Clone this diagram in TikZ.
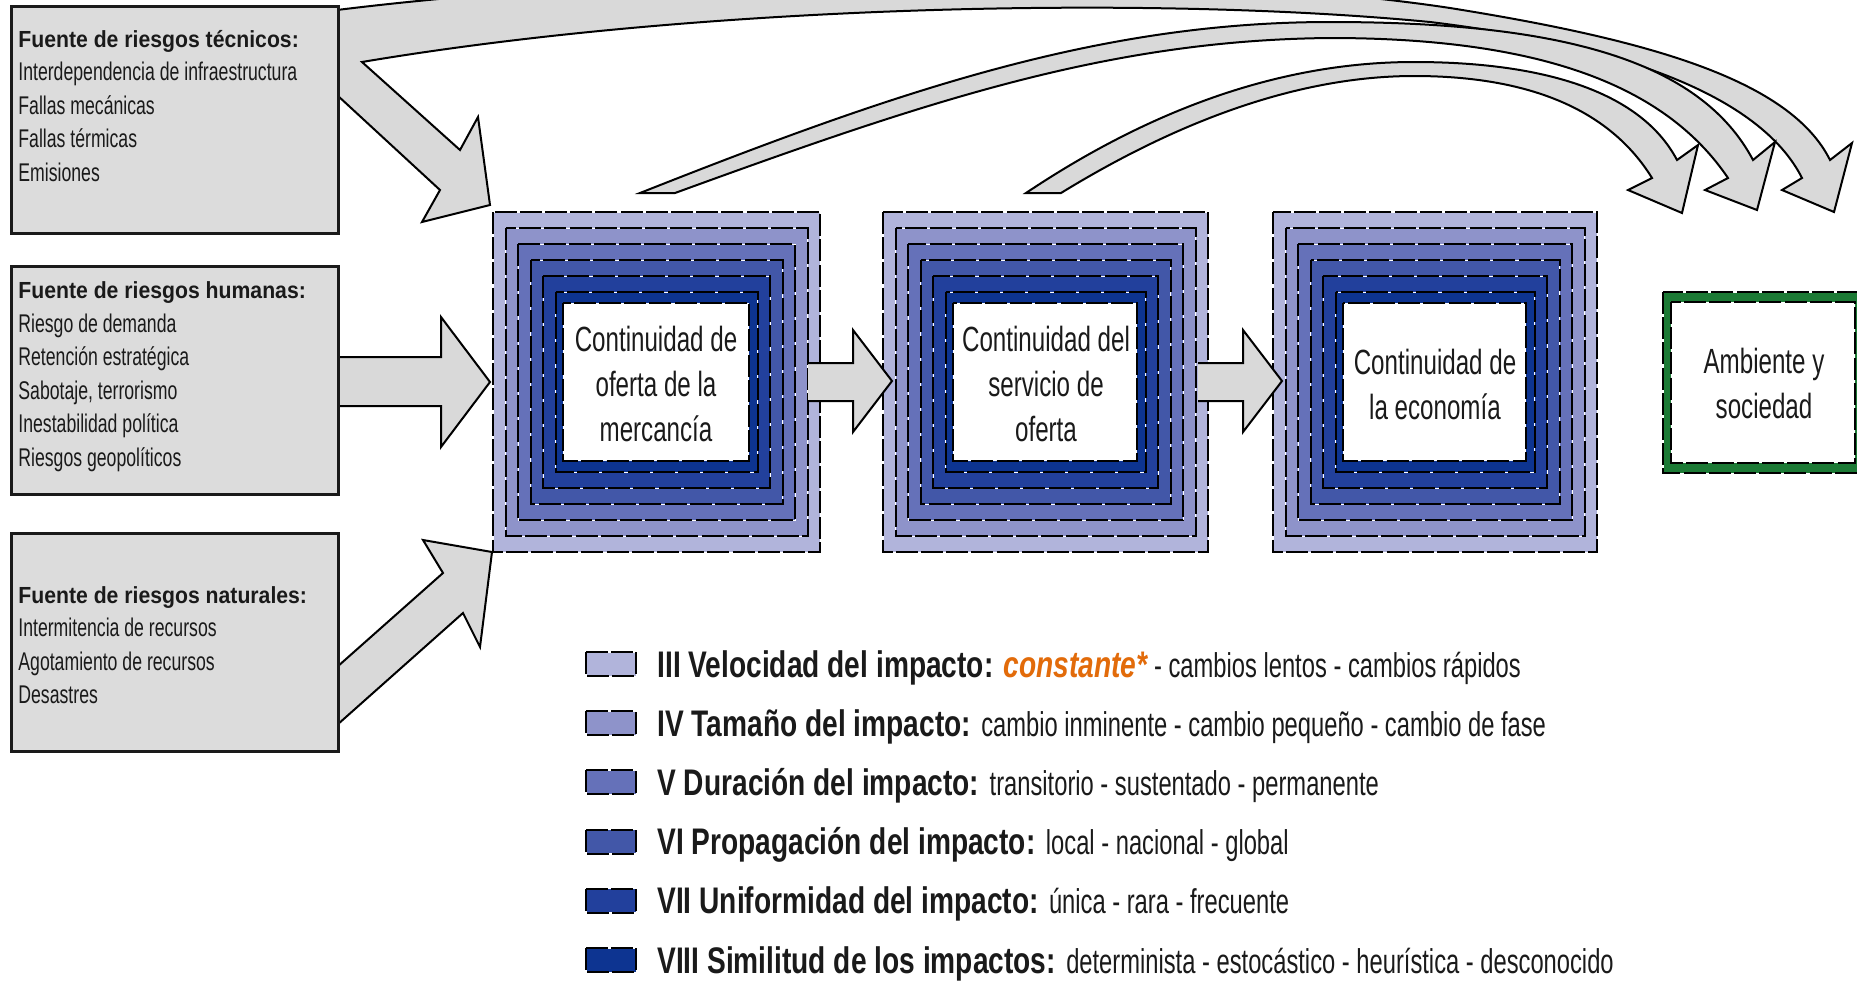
\documentclass[tikz,border=0pt]{standalone}
\usepackage{fontspec}
\setmainfont{Liberation Sans}
\newfontfamily\narrowf[FakeStretch=0.69]{Liberation Sans}
\newfontfamily\titlef[FakeStretch=0.91]{Liberation Sans}
\newfontfamily\legf[FakeStretch=0.76]{Liberation Sans}
\usetikzlibrary{calc}

\definecolor{lay1}{HTML}{B1B4DB}
\definecolor{lay2}{HTML}{8E93CA}
\definecolor{lay3}{HTML}{6571B9}
\definecolor{lay4}{HTML}{4257A8}
\definecolor{lay5}{HTML}{22409C}
\definecolor{lay6}{HTML}{0D3491}
\definecolor{arrowgray}{HTML}{D9D9D9}
\definecolor{boxgray}{HTML}{DCDCDC}
\definecolor{envgreen}{HTML}{1C7A35}
\definecolor{orangeT}{HTML}{E26B0A}
\definecolor{ink}{HTML}{1A1A1A}

\newcommand{\legB}{\legf\bfseries\fontsize{18.5}{20}\selectfont}
\newcommand{\legR}{\narrowf\fontsize{17.2}{20}\selectfont}

\tikzset{
  blockarrow/.style={fill=arrowgray, draw=black, line width=1pt, line join=miter},
  srcbox/.style={fill=boxgray, draw=ink, line width=1.5pt},
  dashedge/.style={draw=black, line width=1pt, dash pattern=on 11pt off 1.6pt},
  whiteedge/.style={draw=white, line width=0.45pt},
  ttl/.style={anchor=base west, inner sep=0pt, text=ink, font=\titlef\bfseries\fontsize{11.65}{14}\selectfont},
  itm/.style={anchor=base west, inner sep=0pt, text=ink, font=\narrowf\fontsize{12.8}{15}\selectfont},
  ctr/.style={align=center, inner sep=0pt, text=ink, font=\narrowf\fontsize{17.5}{22.5}\selectfont},
  leg/.style={anchor=base west, inner sep=0pt, text=ink},
}

\newcommand{\impactbox}[4]{%
  \foreach \k/\c in {0/lay1,1/lay2,2/lay3,3/lay4,4/lay5,5/lay6}{
    \fill[\c] ({#1+12.5*\k},{#2+16*\k}) rectangle ({#3-12.5*\k},{#4-16*\k});
    \draw[whiteedge] ({#1+12.5*\k},{#2+16*\k}) rectangle ({#3-12.5*\k},{#4-16*\k});
    \draw[dashedge] ({#1+12.5*\k},{#2+16*\k}) rectangle ({#3-12.5*\k},{#4-16*\k});
  }
  \fill[white] ({#1+70},{#2+91}) rectangle ({#3-71},{#4-91});
  \draw[black, line width=0.6pt, dash pattern=on 11pt off 1.6pt] ({#1+70},{#2+91}) rectangle ({#3-71},{#4-91});
}

\newcommand{\legsq}[2]{%
  \fill[#1] (586,{#2-25}) rectangle (636,{#2-1});
  \draw[whiteedge] (586,{#2-25}) rectangle (636,{#2-1});
  \draw[dashedge] (586,{#2-25}) rectangle (636,{#2-1});
}

\begin{document}
\begin{tikzpicture}[x=0.5pt,y=-0.5pt]
\useasboundingbox (0,0) rectangle (1857,981);
\clip (0,0) rectangle (1857,981);
\fill[white] (0,0) rectangle (1857,981);

% ---- curved band from tecnicos + diagonal arrow (one outline)
\draw[blockarrow] (337,10) .. controls (700,-35) and (1200,-30) .. (1450,8)
  .. controls (1650,40) and (1790,80) .. (1830,160) -- (1852,143) -- (1834,212)
  -- (1782,190) -- (1802,178) .. controls (1760,95) and (1620,45) .. (1430,22)
  .. controls (1150,-5) and (700,5) .. (362,62) -- (460,150) -- (478,117)
  -- (490,205) -- (422,222) -- (440,190) -- (337,95) -- cycle;

% ---- curved band from box A
\draw[blockarrow] (640,193) .. controls (900,90) and (1100,22) .. (1330,22)
  .. controls (1560,22) and (1700,60) .. (1753,160) -- (1775,142) -- (1757,210)
  -- (1705,190) -- (1728,178) .. controls (1665,85) and (1540,38) .. (1330,38)
  .. controls (1110,40) and (930,100) .. (675,193) -- cycle;

% ---- curved band from box B
\draw[blockarrow] (1026,193) .. controls (1150,110) and (1280,62) .. (1414,62)
  .. controls (1540,62) and (1640,90) .. (1677,160) -- (1698,145) -- (1682,213)
  -- (1628,190) -- (1652,178) .. controls (1610,110) and (1530,76) .. (1414,76)
  .. controls (1300,76) and (1180,120) .. (1061,193) -- cycle;

% ---- humanas arrow
\draw[blockarrow] (337,357) -- (441,357) -- (441,317) -- (490,382) -- (441,447) -- (441,406) -- (337,406) -- cycle;
% ---- naturales arrow
\draw[blockarrow] (337,667) -- (443,573) -- (423,540) -- (492,552) -- (480,647) -- (463,613) -- (337,725) -- cycle;

% ---- source boxes
\node[srcbox, anchor=north west, minimum width=163.5pt, minimum height=113.5pt] (tec) at (10,5) {};
\node[srcbox, anchor=north west, minimum width=163.5pt, minimum height=114pt] (hum) at (10,265) {};
\node[srcbox, anchor=north west, minimum width=163.5pt, minimum height=109pt] (nat) at (10,532) {};

\node[ttl] (tec0) at (18,47) {Fuente de riesgos técnicos:};
\node[itm] (tec1) at (18,80.5) {Interdependencia de infraestructura};
\node[itm] (tec2) at (18,114) {Fallas mecánicas};
\node[itm] (tec3) at (18,147.5) {Fallas térmicas};
\node[itm] (tec4) at (18,181) {Emisiones};

\node[ttl] (hum0) at (18,298) {Fuente de riesgos humanas:};
\node[itm] (hum1) at (18,332) {Riesgo de demanda};
\node[itm] (hum2) at (18,365.5) {Retención estratégica};
\node[itm] (hum3) at (18,399) {Sabotaje, terrorismo};
\node[itm] (hum4) at (18,432.5) {Inestabilidad política};
\node[itm] (hum5) at (18,466) {Riesgos geopolíticos};

\node[ttl] (nat0) at (18,603) {Fuente de riesgos naturales:};
\node[itm] (nat1) at (18,636.5) {Intermitencia de recursos};
\node[itm] (nat2) at (18,670) {Agotamiento de recursos};
\node[itm] (nat3) at (18,703.5) {Desastres};

% ---- impact boxes
\impactbox{493}{212}{820}{552}
\impactbox{883}{212}{1208}{552}
\impactbox{1273}{212}{1597}{552}

% ---- environment box
\fill[envgreen] (1663,292) rectangle (1870,473);
\draw[whiteedge] (1663,292) rectangle (1870,473);
\draw[dashedge] (1663,292) rectangle (1870,473);
\fill[white] (1671,302) rectangle (1855,463);
\draw[black, line width=0.8pt, dash pattern=on 11pt off 1.6pt] (1671,302) rectangle (1855,463);

% ---- arrows between impact boxes
\draw[blockarrow] (808,363) -- (853,363) -- (853,330) -- (892,381) -- (853,432) -- (853,401) -- (808,401);
\draw[blockarrow] (1198,363) -- (1243,363) -- (1243,330) -- (1282,381) -- (1243,432) -- (1243,401) -- (1198,401);

% ---- box texts
\node[ctr] (boxA) at (656,384) {Continuidad de\\oferta de la\\mercancía};
\node[ctr] (boxB) at (1046,384) {Continuidad del\\servicio de\\oferta};
\node[ctr] (boxC) at (1435,384) {Continuidad de\\la economía};
\node[ctr] (env) at (1764,383) {Ambiente y\\sociedad};

% ---- legend
\legsq{lay1}{677}
\legsq{lay2}{736.2}
\legsq{lay3}{795.4}
\legsq{lay4}{854.6}
\legsq{lay5}{913.8}
\legsq{lay6}{973}

\node[leg] (l1) at (657,677) {{\legB III Velocidad del impacto: }{\legB\itshape\color{orangeT}constante*}{\legR{} - cambios lentos - cambios rápidos}};
\node[leg] (l2) at (657,736.2) {{\legB IV Tamaño del impacto: }{\legR cambio inminente - cambio pequeño - cambio de fase}};
\node[leg] (l3) at (657,795.4) {{\legB V Duración del impacto: }{\legR transitorio - sustentado - permanente}};
\node[leg] (l4) at (657,854.6) {{\legB VI Propagación del impacto: }{\legR local - nacional - global}};
\node[leg] (l5) at (657,913.8) {{\legB VII Uniformidad del impacto: }{\legR única - rara - frecuente}};
\node[leg] (l6) at (657,973) {{\legB VIII Similitud de los impactos: }{\legR determinista - estocástico - heurística - desconocido}};
\end{tikzpicture}
\end{document}
